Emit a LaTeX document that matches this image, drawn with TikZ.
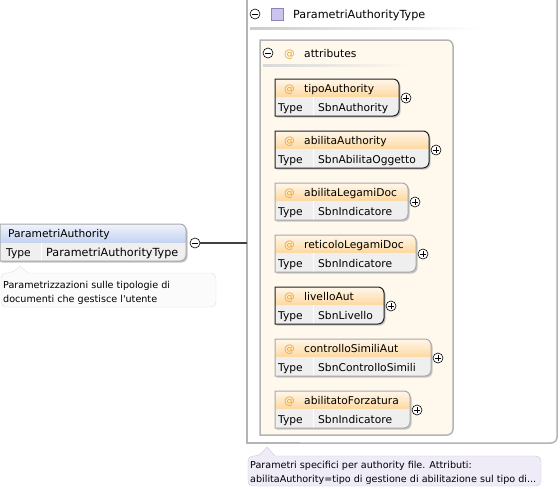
\documentclass[tikz,border=0pt]{standalone}
\usepackage{fontspec}
\setmainfont{DejaVu Sans}
\usepackage{xcolor}
\usepackage{tikz}
\usetikzlibrary{positioning}

\definecolor{boxgray}{HTML}{B4B4B4}
\definecolor{elemgray}{HTML}{A8A8A8}
\definecolor{elemdark}{HTML}{202020}
\definecolor{hdrtop}{HTML}{FFF7EA}
\definecolor{hdrbot}{HTML}{FDD8A0}
\definecolor{typebg}{HTML}{EFEFEF}
\definecolor{bluetop}{HTML}{F0F4FC}
\definecolor{bluebot}{HTML}{C2D2F0}
\definecolor{attrbg}{HTML}{FFF8EC}
\definecolor{atorange}{HTML}{EBA33A}
\definecolor{descbg}{HTML}{FBFBFB}
\definecolor{descline}{HTML}{DEDEDE}
\definecolor{notebg}{HTML}{EFECF8}
\definecolor{noteline}{HTML}{C9C3DF}
\definecolor{cplxfill}{HTML}{CCC4EC}
\definecolor{cplxline}{HTML}{8C82BE}

% box with sharp left and rounded right corners
\newcommand{\rbox}[4]{(#1+20,#2) -- (#1,#2) -- (#1,#4) -- (#1+20,#4) [rounded corners=6] -- (#3,#4) -- (#3,#2) -- cycle}

\tikzset{
  txt/.style={anchor=base west,inner sep=0},
  desctxt/.style={txt,font=\fontsize{9.6}{11}\selectfont},
  minusbtn/.style={circle,draw,line width=0.6,minimum size=10,inner sep=0,fill=white,
    path picture={\draw[line width=0.7] ([xshift=-2.6]path picture bounding box.center) -- ([xshift=2.6]path picture bounding box.center);}},
  plusbtn/.style={minusbtn,
    path picture={\draw[line width=0.7] ([xshift=-2.6]path picture bounding box.center) -- ([xshift=2.6]path picture bounding box.center)
      ([yshift=-2.6]path picture bounding box.center) -- ([yshift=2.6]path picture bounding box.center);}}
}

\begin{document}
\begin{tikzpicture}[x=1pt,y=-1pt,font=\fontsize{10.7}{12}\selectfont]
\useasboundingbox (0,0) rectangle (560,491);

% complex type box
\draw[boxgray,line width=1.5] (300,443) -- (247,443) -- (247,-10);
\draw[boxgray,line width=1.5,rounded corners=6] (300,443) -- (557,443) -- (557,-10);
\node[minusbtn] (minusT) at (255,14) {};
\filldraw[fill=cplxfill,draw=cplxline] (271,8) rectangle (283,20);
\node[txt,font=\fontsize{11.2}{12}\selectfont] (tname) at (293,18) {ParametriAuthorityType};
\shade[left color=gray!40,right color=white] (250,27) rectangle (480,29);

% attributes group
\filldraw[fill=attrbg,draw=boxgray,line width=1.5] \rbox{260}{40}{453}{435};
\node[minusbtn] (minusA) at (268,53) {};
\node[txt,text=atorange] (atA) at (284,57) {@};
\node[txt] (attr) at (304,57) {attributes};
\shade[left color=gray!30,right color=attrbg] (263,64) rectangle (410,66);

% attributes
\foreach \nm/\ty/\xr/\bc [count=\i from 0] in {
  tipoAuthority/SbnAuthority/399/elemdark,
  abilitaAuthority/SbnAbilitaOggetto/429/elemdark,
  abilitaLegamiDoc/SbnIndicatore/408/elemgray,
  reticoloLegamiDoc/SbnIndicatore/416/elemgray,
  livelloAut/SbnLivello/384/elemdark,
  controlloSimiliAut/SbnControlloSimili/431/elemgray,
  abilitatoForzatura/SbnIndicatore/410/elemgray}
{
  \pgfmathsetmacro{\yt}{79+52*\i}
  \pgfmathsetmacro{\ym}{\yt+18}
  \pgfmathsetmacro{\yb}{\yt+37}
  \fill[gray!45,shift={(1.5,1.5)}] \rbox{275}{\yt}{\xr}{\yb};
  \begin{scope}
    \clip \rbox{275}{\yt}{\xr}{\yb};
    \shade[top color=hdrtop,bottom color=hdrbot] (275,\yt) rectangle (\xr,\ym);
    \fill[typebg] (275,\ym) rectangle (\xr,\yb);
    \draw[white,line width=1] (313,\ym) -- (313,\yb);
  \end{scope}
  \draw[\bc,line width=1] \rbox{275}{\yt}{\xr}{\yb};
  \node[txt,text=atorange] (at\i) at (284,\yt+13) {@};
  \node[txt] (name\i) at (304,\yt+13) {\nm};
  \node[txt] (key\i) at (278,\ym+14) {Type};
  \node[txt] (type\i) at (318,\ym+14) {\ty};
  \node[plusbtn] (plus\i) at (\xr+7,\ym+1) {};
}

% global element
\fill[gray!45,shift={(1.5,1.5)}] \rbox{0}{224}{186}{261};
\begin{scope}
  \clip \rbox{0}{224}{186}{261};
  \shade[top color=bluetop,bottom color=bluebot] (0,224) rectangle (186,243);
  \fill[typebg] (0,243) rectangle (186,261);
  \draw[white,line width=1] (41,243) -- (41,261);
\end{scope}
\draw[elemgray,line width=1] \rbox{0}{224}{186}{261};
\node[txt] (elname) at (8,237) {ParametriAuthority};
\node[txt] (elkey) at (6,256) {Type};
\node[txt,font=\fontsize{11.2}{12}\selectfont] (eltype) at (46,256) {ParametriAuthorityType};
\node[minusbtn] (minusL) at (195,243) {};
\coordinate (ctype) at (247,243);
\draw[black!75,line width=1.8] (minusL) -- (ctype);

% annotations
\filldraw[fill=descbg,draw=descline] (1,307) [rounded corners=5] -- (1,273) -- (12,273) [sharp corners] -- (20,266) -- (28,273) -- (29,273) [rounded corners=5] -- (216,273) -- (216,307) -- cycle;
\node[desctxt] (desc1) at (3,288) {Parametrizzazioni sulle tipologie di};
\node[desctxt] (desc2) at (3,302) {documenti che gestisce l\textquotesingle utente};

\filldraw[fill=notebg,draw=noteline] (248,486) [rounded corners=5] -- (248,456) -- (259,456) [sharp corners] -- (267,447) -- (275,456) -- (276,456) [rounded corners=5] -- (541,456) -- (541,486) -- cycle;
\node[desctxt] (note1) at (250,468) {Parametri specifici per authority file. Attributi:};
\node[desctxt] (note2) at (250,482) {abilitaAuthority=tipo di gestione di abilitazione sul tipo di...};
\end{tikzpicture}
\end{document}
